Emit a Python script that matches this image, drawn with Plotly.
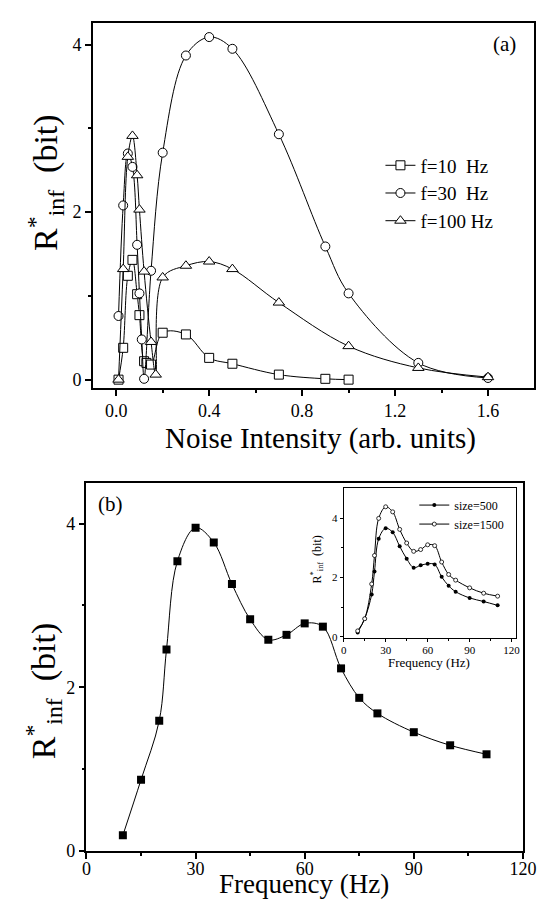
import plotly.graph_objects as go

# ---------------- data ----------------
# panel (a): R*_inf vs noise intensity
noise_10 = [0.01, 0.03, 0.05, 0.07, 0.09, 0.10, 0.12, 0.13, 0.15, 0.20, 0.30, 0.40, 0.50, 0.70, 0.90, 1.00]
rinf_10 = [0.0, 0.38, 1.24, 1.43, 1.02, 0.77, 0.22, 0.20, 0.18, 0.56, 0.54, 0.26, 0.19, 0.06, 0.01, 0.0]

noise_30 = [0.01, 0.03, 0.05, 0.07, 0.09, 0.10, 0.11, 0.12, 0.15, 0.20, 0.30, 0.40, 0.50, 0.70, 0.90, 1.00, 1.30, 1.60]
rinf_30 = [0.76, 2.08, 2.70, 2.54, 1.61, 1.03, 0.48, 0.01, 1.30, 2.71, 3.87, 4.09, 3.95, 2.93, 1.59, 1.03, 0.20, 0.02]

noise_100 = [0.01, 0.03, 0.05, 0.07, 0.09, 0.10, 0.12, 0.15, 0.17, 0.20, 0.30, 0.40, 0.50, 0.70, 1.00, 1.30, 1.60]
rinf_100 = [0.0, 1.32, 2.66, 2.91, 2.44, 2.03, 1.29, 0.45, 0.06, 1.22, 1.36, 1.41, 1.32, 0.92, 0.40, 0.14, 0.03]

# panel (b): R*_inf vs frequency
freq = [10, 15, 20, 22, 25, 30, 35, 40, 45, 50, 55, 60, 65, 70, 75, 80, 90, 100, 110]
rinf_freq = [0.19, 0.87, 1.59, 2.46, 3.54, 3.95, 3.77, 3.26, 2.83, 2.58, 2.64, 2.78, 2.74, 2.23, 1.87, 1.68, 1.45, 1.29, 1.18]

# inset: two network sizes
rinf_size500 = [0.15, 0.61, 1.43, 2.20, 3.30, 3.66, 3.52, 3.05, 2.63, 2.33, 2.41, 2.46, 2.44, 2.02, 1.72, 1.52, 1.31, 1.19, 1.06]
rinf_size1500 = [0.20, 0.61, 1.78, 2.74, 3.99, 4.38, 4.21, 3.62, 3.16, 2.88, 2.94, 3.10, 3.07, 2.52, 2.10, 1.91, 1.65, 1.47, 1.37]

# ---------------- figure ----------------
W, H = 545, 900
FONT = "Liberation Serif, Times New Roman, serif"


def px(x):
    return x / W


def py(y):
    return 1 - y / H


fig = go.Figure()

line = dict(color="black", width=1, shape="spline", smoothing=1.0)
open_marker = dict(color="white", line=dict(color="black", width=1))

fig.add_trace(go.Scatter(x=noise_10, y=rinf_10, mode="lines+markers", name="f=10\u00a0\u00a0Hz",
                         line=line, marker=dict(symbol="square", size=9, **open_marker),
                         xaxis="x", yaxis="y", legend="legend"))
fig.add_trace(go.Scatter(x=noise_30, y=rinf_30, mode="lines+markers", name="f=30\u00a0\u00a0Hz",
                         line=line, marker=dict(symbol="circle", size=9, **open_marker),
                         xaxis="x", yaxis="y", legend="legend"))
fig.add_trace(go.Scatter(x=noise_100, y=rinf_100, mode="lines+markers", name="f=100 Hz",
                         line=line, marker=dict(symbol="triangle-up", size=10, **open_marker),
                         xaxis="x", yaxis="y", legend="legend"))

fig.add_trace(go.Scatter(x=freq, y=rinf_freq, mode="lines+markers", showlegend=False,
                         line=line, marker=dict(symbol="square", size=8, color="black"),
                         xaxis="x2", yaxis="y2"))

fig.add_trace(go.Scatter(x=freq, y=rinf_size500, mode="lines+markers", name="size=500",
                         line=line, marker=dict(symbol="circle", size=4, color="black"),
                         xaxis="x3", yaxis="y3", legend="legend2"))
fig.add_trace(go.Scatter(x=freq, y=rinf_size1500, mode="lines+markers", name="size=1500",
                         line=line, marker=dict(symbol="circle", size=4, color="white",
                                                line=dict(color="black", width=0.8)),
                         xaxis="x3", yaxis="y3", legend="legend2"))

axis_common = dict(showline=True, linecolor="black", mirror=True, ticks="outside",
                   tickcolor="black", showgrid=False, zeroline=False,
                   tickfont=dict(family=FONT, size=18, color="black"))
inset_common = dict(showline=True, linecolor="black", mirror=True, ticks="outside",
                    tickcolor="black", showgrid=False, zeroline=False, linewidth=1, tickwidth=1,
                    ticklen=3, tickfont=dict(family=FONT, size=11, color="black"))

fig.update_layout(
    width=W, height=H,
    margin=dict(l=0, r=0, t=0, b=0),
    paper_bgcolor="white", plot_bgcolor="white",
    font=dict(family=FONT, color="black"),
    xaxis=dict(domain=[px(82.7), px(539.3)], anchor="y", range=[-0.1, 1.8],
               tickvals=[0.0, 0.4, 0.8, 1.2, 1.6], ticktext=["0.0", "0.4", "0.8", "1.2", "1.6"],
               ticklen=6, linewidth=1.5, tickwidth=1.5,
               minor=dict(tickvals=[0.2, 0.6, 1.0, 1.4], ticklen=3, tickcolor="black", ticks="outside"),
               **axis_common),
    yaxis=dict(domain=[py(384.3), py(15)], anchor="x", range=[-0.1, 4.26],
               tickvals=[0, 2, 4], ticklen=6, linewidth=1.5, tickwidth=1.5,
               minor=dict(tickvals=[1, 3], ticklen=3, tickcolor="black", ticks="outside"),
               **axis_common),
    xaxis2=dict(domain=[px(76), px(527.3)], anchor="y2", range=[0, 120],
                tickvals=[0, 30, 60, 90, 120], ticklen=6, linewidth=1.5, tickwidth=1.5,
                ticklabelstandoff=-5,
                minor=dict(tickvals=[15, 45, 75, 105], ticklen=3, tickcolor="black", ticks="outside"),
                **axis_common),
    yaxis2=dict(domain=[py(852.3), py(480)], anchor="x2", range=[0, 4.5],
                tickvals=[0, 2, 4], ticklen=6, linewidth=1.5, tickwidth=1.5,
                minor=dict(tickvals=[1, 3], ticklen=3, tickcolor="black", ticks="outside"),
                **axis_common),
    xaxis3=dict(domain=[px(342), px(520)], anchor="y3", range=[0, 123],
                tickvals=[0, 30, 60, 90, 120], ticklabelstandoff=-2,
                minor=dict(tickvals=[15, 45, 75, 105], ticklen=2, tickcolor="black", ticks="outside"),
                **inset_common),
    yaxis3=dict(domain=[py(637.4), py(485.8)], anchor="x3", range=[-0.05, 5.0],
                tickvals=[0, 2, 4],
                minor=dict(tickvals=[1, 3], ticklen=2, tickcolor="black", ticks="outside"),
                **inset_common),
    legend=dict(x=px(380), y=py(140), xanchor="left", yanchor="top",
                font=dict(family=FONT, size=19, color="black"),
                bgcolor="rgba(0,0,0,0)", tracegroupgap=0),
    legend2=dict(x=px(415), y=py(488), xanchor="left", yanchor="top",
                 font=dict(family=FONT, size=12, color="black"),
                 bgcolor="rgba(0,0,0,0)", tracegroupgap=0),
)

ytitle = "R<sup>*</sup><sub>inf</sub>\u00a0\u00a0(bit)"
annotations = [
    dict(text="Noise Intensity (arb. units)", x=px(318), y=py(435), font=dict(size=29)),
    dict(text=ytitle, x=px(33), y=py(176), font=dict(size=34), textangle=-90),
    dict(text="(a)", x=px(508), y=py(36), font=dict(size=21)),
    dict(text="(b)", x=px(101), y=py(502), font=dict(size=21)),
    dict(text="Frequency (Hz)", x=px(301), y=py(886), font=dict(size=27)),
    dict(text=ytitle, x=px(31), y=py(690), font=dict(size=34), textangle=-90),
    dict(text="Frequency (Hz)", x=px(430), y=py(662), font=dict(size=13)),
    dict(text=ytitle, x=px(315), y=py(558), font=dict(size=12), textangle=-90),
]
for a in annotations:
    a.update(xref="paper", yref="paper", showarrow=False, xanchor="center", yanchor="middle")
    a["font"].update(family=FONT, color="black")
fig.update_layout(annotations=annotations)

fig.write_html("out.html")
